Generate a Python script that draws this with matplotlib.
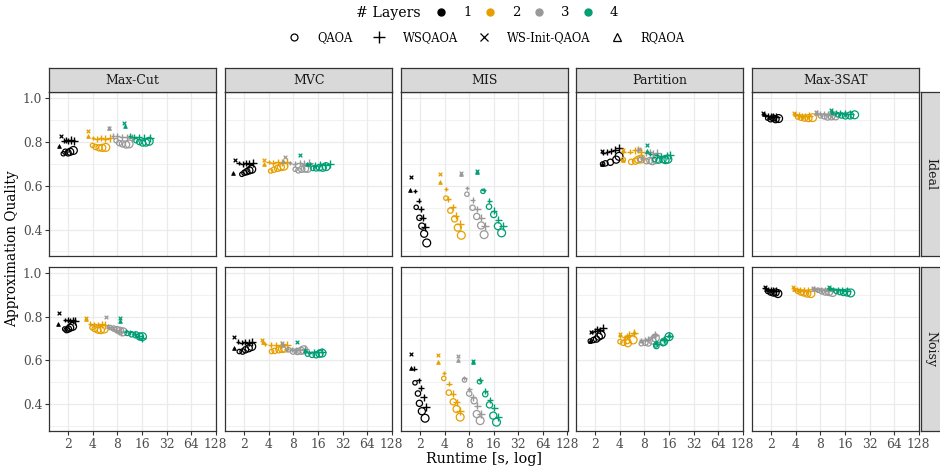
import numpy as np
import matplotlib.pyplot as plt
from matplotlib.lines import Line2D

plt.rcParams['font.family'] = ['DejaVu Serif']

# --- datos ---------------------------------------------------------------
PROBLEMS = ['Max-Cut', 'MVC', 'MIS', 'Partition', 'Max-3SAT']
CONDITIONS = ['Ideal', 'Noisy']
LAYERS = ['1', '2', '3', '4']
LAYER_COLORS = ['#000000', '#E69F00', '#999999', '#009E73']
METHODS = ['QAOA', 'WSQAOA', 'WS-Init-QAOA', 'RQAOA']
X_TICKS = [2, 4, 8, 16, 32, 64, 128]
Y_TICKS = [0.4, 0.6, 0.8, 1.0]
POINT_SIZES = [10, 15, 20, 26, 32]

# Max-Cut / Ideal
maxcut_ideal_qaoa_rt = [[1.73, 1.83, 1.98, 2.1, 2.3], [3.96, 4.3, 4.75, 5.2, 5.75],
                        [7.7, 8.4, 9.2, 10.2, 11.1], [13.5, 14.8, 16.3, 17.9, 19.6]]
maxcut_ideal_qaoa_q = [[.747, .756, .751, .756, .762], [.785, .778, .774, .774, .776],
                       [.807, .796, .792, .789, .792], [.807, .801, .796, .798, .804]]
maxcut_ideal_ws_rt = [[1.74, 1.88, 2.0, 2.15, 2.35], [4.0, 4.5, 5.0, 5.7, 6.5],
                      [7.0, 8.0, 9.0, 10.5, 12.0], [11.4, 12.8, 14.5, 17.0, 20.0]]
maxcut_ideal_ws_q = [[.807, .81, .807, .81, .807], [.82, .815, .82, .815, .818],
                     [.83, .828, .825, .822, .82], [.83, .825, .822, .82, .82]]
maxcut_ideal_init_rt = [1.6, 3.5, 6.3, 9.7]
maxcut_ideal_init_q = [.826, .849, .867, .887]
maxcut_ideal_rq_rt = [1.53, 3.45, 6.3, 10.0]
maxcut_ideal_rq_q = [.784, .826, .867, .875]

# MVC / Ideal
mvc_ideal_qaoa_rt = [[1.86, 2.0, 2.14, 2.3, 2.46], [4.2, 4.6, 5.1, 5.6, 6.1],
                     [8.4, 9.2, 10.1, 11.1, 11.9], [13.8, 15.2, 16.7, 18.3, 20.1]]
mvc_ideal_qaoa_q = [[.653, .66, .665, .671, .676], [.668, .674, .68, .686, .69],
                    [.676, .671, .676, .679, .68], [.68, .68, .683, .683, .688]]
mvc_ideal_ws_rt = [[1.7, 1.9, 2.1, 2.3, 2.55], [3.95, 4.5, 5.1, 5.8, 6.6],
                   [7.2, 8.3, 9.5, 10.8, 12.3], [12.8, 14.6, 16.8, 19.5, 22.6]]
mvc_ideal_ws_q = [[.705, .70, .705, .70, .705], [.71, .705, .71, .705, .708],
                  [.705, .70, .705, .70, .705], [.70, .695, .70, .695, .70]]
mvc_ideal_init_rt = [1.54, 3.5, 6.3, 9.7]
mvc_ideal_init_q = [.718, .72, .731, .743]
mvc_ideal_rq_rt = [1.45, 3.5, 6.0, 11.7]
mvc_ideal_rq_q = [.66, .70, .715, .70]

# MIS / Ideal
mis_ideal_qaoa_rt = [[1.79, 1.96, 2.1, 2.24, 2.41], [4.14, 4.7, 5.3, 5.8, 6.4],
                     [7.5, 8.8, 9.9, 11.2, 12.2], [11.8, 14.0, 16.0, 18.0, 20.0]]
mis_ideal_qaoa_q = [[.502, .454, .416, .381, .339], [.544, .487, .449, .409, .374],
                    [.562, .50, .46, .419, .377], [.575, .505, .469, .416, .385]]
mis_ideal_ws_rt = [[1.74, 1.91, 2.04, 2.16, 2.29], [4.14, 4.45, 5.0, 5.5, 6.2],
                   [7.5, 8.8, 10.1, 11.2, 12.6], [12.0, 14.2, 16.2, 18.3, 21.0]]
mis_ideal_ws_q = [[.577, .532, .495, .454, .412], [.585, .54, .505, .464, .427],
                  [.59, .535, .496, .455, .418], [.58, .532, .487, .446, .416]]
mis_ideal_init_rt = [1.55, 3.52, 6.3, 9.9]
mis_ideal_init_q = [.641, .653, .66, .668]
mis_ideal_rq_rt = [1.49, 3.52, 6.3, 9.9]
mis_ideal_rq_q = [.58, .62, .655, .665]

# Partition / Ideal
part_ideal_qaoa_rt = [[2.45, 2.65, 3.05, 3.6, 3.9], [4.4, 5.5, 6.2, 6.7, 7.3],
                      [7.1, 8.4, 9.3, 10.0, 11.0], [10.7, 12.0, 13.5, 14.5, 15.5]]
part_ideal_qaoa_q = [[.70, .703, .708, .72, .735], [.72, .71, .713, .72, .723],
                     [.72, .713, .716, .713, .72], [.72, .716, .72, .718, .722]]
part_ideal_ws_rt = [[2.5, 2.8, 3.1, 3.5, 3.9], [4.4, 5.3, 6.1, 6.7, 7.3],
                    [6.7, 8.4, 9.3, 10.2, 11.5], [9.3, 11.3, 12.9, 14.9, 16.5]]
part_ideal_ws_q = [[.752, .755, .76, .765, .775], [.756, .756, .762, .766, .756],
                   [.766, .751, .756, .747, .75], [.747, .74, .736, .74, .742]]
part_ideal_init_rt = [2.4, 4.3, 6.8, 8.7]
part_ideal_init_q = [.76, .765, .77, .785]
part_ideal_rq_rt = [2.4, 4.3, 7.5, 8.7]
part_ideal_rq_q = [.70, .72, .73, .76]

# Max-3SAT / Ideal
sat_ideal_qaoa_rt = [[1.8, 1.95, 2.1, 2.25, 2.45], [4.2, 4.6, 5.1, 5.7, 6.4],
                     [8.0, 8.9, 9.8, 10.9, 12.2], [13.0, 14.5, 16.2, 18.5, 21.0]]
sat_ideal_qaoa_q = [[.91, .905, .91, .905, .908], [.915, .912, .91, .91, .912],
                    [.92, .918, .915, .918, .92], [.925, .922, .92, .922, .925]]
sat_ideal_ws_rt = [[1.65, 1.8, 1.95, 2.1, 2.3], [3.9, 4.3, 4.7, 5.2, 5.8],
                   [7.2, 8.0, 8.8, 9.8, 11.0], [11.0, 12.5, 14.0, 16.0, 18.5]]
sat_ideal_ws_q = [[.925, .92, .918, .915, .915], [.93, .925, .92, .918, .918],
                  [.935, .93, .928, .925, .925], [.94, .935, .932, .93, .93]]
sat_ideal_init_rt = [1.58, 3.8, 7.0, 10.9]
sat_ideal_init_q = [.935, .935, .94, .945]
sat_ideal_rq_rt = [1.6, 3.85, 7.1, 11.2]
sat_ideal_rq_q = [.93, .93, .935, .94]

# Max-Cut / Noisy
maxcut_noisy_qaoa_rt = [[1.8, 1.9, 2.0, 2.1, 2.25], [3.9, 4.2, 4.6, 5.0, 5.5],
                        [6.5, 7.2, 7.9, 8.6, 9.4], [10.5, 11.9, 13.5, 15.1, 16.2]]
maxcut_noisy_qaoa_q = [[.743, .738, .743, .749, .755], [.749, .743, .738, .738, .743],
                       [.75, .745, .74, .735, .73], [.723, .719, .716, .708, .708]]
maxcut_noisy_ws_rt = [[1.8, 1.95, 2.1, 2.25, 2.4], [3.7, 4.1, 4.6, 5.1, 5.6],
                      [6.3, 7.0, 7.7, 8.3, 8.9], [10.2, 11.5, 13.0, 14.5, 15.8]]
maxcut_noisy_ws_q = [[.783, .785, .78, .783, .778], [.768, .765, .762, .765, .76],
                     [.753, .745, .738, .733, .728], [.734, .728, .72, .712, .703]]
maxcut_noisy_init_rt = [1.55, 3.3, 5.8, 8.6]
maxcut_noisy_init_q = [.814, .794, .797, .795]
maxcut_noisy_rq_rt = [1.47, 3.3, 6.2, 8.6]
maxcut_noisy_rq_q = [.764, .79, .755, .78]

# MVC / Noisy
mvc_noisy_qaoa_rt = [[1.73, 1.9, 2.06, 2.26, 2.46], [4.3, 4.7, 5.3, 5.8, 6.2],
                     [7.0, 7.9, 8.9, 9.9, 10.7], [11.9, 13.5, 15.2, 16.7, 17.9]]
mvc_noisy_qaoa_q = [[.64, .64, .648, .655, .663], [.64, .643, .648, .652, .655],
                    [.648, .64, .64, .643, .648], [.628, .625, .625, .63, .633]]
mvc_noisy_ws_rt = [[1.66, 1.85, 2.05, 2.25, 2.46], [3.6, 4.2, 4.9, 5.7, 6.7],
                   [6.6, 7.6, 8.6, 9.7, 11.0], [11.0, 12.5, 14.2, 16.0, 18.0]]
mvc_noisy_ws_q = [[.685, .68, .685, .68, .683], [.675, .67, .668, .672, .67],
                  [.65, .648, .645, .648, .65], [.64, .635, .638, .636, .64]]
mvc_noisy_init_rt = [1.5, 3.3, 5.8, 8.8]
mvc_noisy_init_q = [.708, .693, .678, .685]
mvc_noisy_rq_rt = [1.5, 3.4, 5.9, 11.0]
mvc_noisy_rq_q = [.655, .685, .672, .645]

# MIS / Noisy
mis_noisy_qaoa_rt = [[1.73, 1.88, 1.96, 2.1, 2.3], [3.9, 4.5, 5.1, 5.6, 6.2],
                     [7.0, 8.0, 9.2, 9.9, 10.9], [10.7, 12.6, 14.2, 15.8, 17.3]]
mis_noisy_qaoa_q = [[.497, .448, .403, .367, .335], [.517, .452, .41, .377, .34],
                    [.51, .448, .415, .354, .324], [.502, .445, .396, .347, .317]]
mis_noisy_ws_rt = [[1.7, 1.91, 2.06, 2.2, 2.35], [3.9, 4.5, 5.1, 5.6, 6.2],
                   [7.0, 8.0, 9.0, 10.1, 11.2], [11.0, 12.6, 14.4, 16.3, 18.3]]
mis_noisy_ws_q = [[.562, .508, .475, .43, .385], [.543, .493, .448, .407, .369],
                  [.52, .467, .43, .392, .354], [.512, .46, .418, .382, .342]]
mis_noisy_init_rt = [1.55, 3.3, 5.8, 9.0]
mis_noisy_init_q = [.628, .622, .618, .598]
mis_noisy_rq_rt = [1.55, 3.35, 5.8, 9.0]
mis_noisy_rq_q = [.565, .592, .60, .592]

# Partition / Noisy
part_noisy_qaoa_rt = [[1.73, 1.9, 2.06, 2.2, 2.35], [4.0, 4.4, 4.9, 5.0, 5.8],
                      [7.3, 8.2, 8.9, 10.0, 10.9], [11.0, 11.2, 13.5, 13.9, 16.0]]
part_noisy_qaoa_q = [[.688, .693, .697, .708, .716], [.685, .68, .69, .678, .693],
                     [.676, .68, .679, .69, .702], [.67, .665, .68, .685, .708]]
part_noisy_ws_rt = [[1.82, 2.0, 2.1, 2.3, 2.45], [4.0, 4.6, 4.9, 5.2, 6.0],
                    [7.3, 8.2, 8.9, 10.0, 10.9], [11.0, 11.4, 13.7, 14.0, 16.0]]
part_noisy_ws_q = [[.73, .735, .743, .738, .748], [.712, .705, .712, .716, .723],
                   [.69, .695, .696, .705, .716], [.682, .676, .692, .695, .712]]
part_noisy_init_rt = [1.75, 4.0, 7.3, 11.0]
part_noisy_init_q = [.73, .72, .69, .68]
part_noisy_rq_rt = [1.7, 6.0, 10.9, 16.0]
part_noisy_rq_q = [.69, .73, .72, .715]

# Max-3SAT / Noisy
sat_noisy_qaoa_rt = [[1.8, 1.95, 2.1, 2.25, 2.4], [4.2, 4.6, 5.0, 5.5, 6.1],
                     [7.5, 8.3, 9.2, 10.2, 11.3], [12.5, 13.8, 15.3, 17.0, 18.8]]
sat_noisy_qaoa_q = [[.915, .91, .908, .91, .905], [.915, .91, .908, .905, .905],
                    [.92, .915, .912, .912, .91], [.915, .912, .91, .91, .908]]
sat_noisy_ws_rt = [[1.65, 1.8, 1.95, 2.1, 2.25], [3.8, 4.1, 4.5, 5.0, 5.6],
                   [6.6, 7.3, 8.1, 9.0, 10.0], [10.3, 11.5, 13.0, 14.8, 17.0]]
sat_noisy_ws_q = [[.93, .925, .922, .918, .915], [.93, .925, .92, .918, .915],
                  [.93, .925, .922, .92, .918], [.93, .925, .922, .92, .918]]
sat_noisy_init_rt = [1.65, 3.7, 6.5, 10.1]
sat_noisy_init_q = [.935, .935, .932, .935]
sat_noisy_rq_rt = [1.7, 3.8, 6.7, 10.5]
sat_noisy_rq_q = [.925, .925, .925, .93]

PANEL_DATA = {
    ('Max-Cut', 'Ideal'): (maxcut_ideal_qaoa_rt, maxcut_ideal_qaoa_q, maxcut_ideal_ws_rt, maxcut_ideal_ws_q,
                           maxcut_ideal_init_rt, maxcut_ideal_init_q, maxcut_ideal_rq_rt, maxcut_ideal_rq_q),
    ('MVC', 'Ideal'): (mvc_ideal_qaoa_rt, mvc_ideal_qaoa_q, mvc_ideal_ws_rt, mvc_ideal_ws_q,
                       mvc_ideal_init_rt, mvc_ideal_init_q, mvc_ideal_rq_rt, mvc_ideal_rq_q),
    ('MIS', 'Ideal'): (mis_ideal_qaoa_rt, mis_ideal_qaoa_q, mis_ideal_ws_rt, mis_ideal_ws_q,
                       mis_ideal_init_rt, mis_ideal_init_q, mis_ideal_rq_rt, mis_ideal_rq_q),
    ('Partition', 'Ideal'): (part_ideal_qaoa_rt, part_ideal_qaoa_q, part_ideal_ws_rt, part_ideal_ws_q,
                             part_ideal_init_rt, part_ideal_init_q, part_ideal_rq_rt, part_ideal_rq_q),
    ('Max-3SAT', 'Ideal'): (sat_ideal_qaoa_rt, sat_ideal_qaoa_q, sat_ideal_ws_rt, sat_ideal_ws_q,
                            sat_ideal_init_rt, sat_ideal_init_q, sat_ideal_rq_rt, sat_ideal_rq_q),
    ('Max-Cut', 'Noisy'): (maxcut_noisy_qaoa_rt, maxcut_noisy_qaoa_q, maxcut_noisy_ws_rt, maxcut_noisy_ws_q,
                           maxcut_noisy_init_rt, maxcut_noisy_init_q, maxcut_noisy_rq_rt, maxcut_noisy_rq_q),
    ('MVC', 'Noisy'): (mvc_noisy_qaoa_rt, mvc_noisy_qaoa_q, mvc_noisy_ws_rt, mvc_noisy_ws_q,
                       mvc_noisy_init_rt, mvc_noisy_init_q, mvc_noisy_rq_rt, mvc_noisy_rq_q),
    ('MIS', 'Noisy'): (mis_noisy_qaoa_rt, mis_noisy_qaoa_q, mis_noisy_ws_rt, mis_noisy_ws_q,
                       mis_noisy_init_rt, mis_noisy_init_q, mis_noisy_rq_rt, mis_noisy_rq_q),
    ('Partition', 'Noisy'): (part_noisy_qaoa_rt, part_noisy_qaoa_q, part_noisy_ws_rt, part_noisy_ws_q,
                             part_noisy_init_rt, part_noisy_init_q, part_noisy_rq_rt, part_noisy_rq_q),
    ('Max-3SAT', 'Noisy'): (sat_noisy_qaoa_rt, sat_noisy_qaoa_q, sat_noisy_ws_rt, sat_noisy_ws_q,
                            sat_noisy_init_rt, sat_noisy_init_q, sat_noisy_rq_rt, sat_noisy_rq_q),
}

# --- figura ----------------------------------------------------------------
W, H = 940, 469
fig = plt.figure(figsize=(W / 100, H / 100), dpi=100)


def px(x0, y0, w, h):
    # convierte una caja en pixeles (arriba-izquierda) a fracciones de figura
    return [x0 / W, 1 - (y0 + h) / H, w / W, h / H]


col_left = [49.3, 225.3, 401.0, 576.3, 752.3]
row_top = [92.3, 266.7]
pw, ph = 166.8, 164.2
strip_h = 24
border = '#333333'

for r, cond in enumerate(CONDITIONS):
    for c, prob in enumerate(PROBLEMS):
        ax = fig.add_axes(px(col_left[c], row_top[r], pw, ph))
        qaoa_rt, qaoa_q, ws_rt, ws_q, init_rt, init_q, rq_rt, rq_q = PANEL_DATA[(prob, cond)]
        for k, color in enumerate(LAYER_COLORS):
            ax.scatter(qaoa_rt[k], qaoa_q[k], s=POINT_SIZES, marker='o', facecolors='none',
                       edgecolors=color, linewidths=0.9, zorder=3)
            ax.scatter(ws_rt[k], ws_q[k], s=POINT_SIZES, marker='+', color=color,
                       linewidths=1.0, zorder=3)
            ax.scatter(init_rt[k], init_q[k], s=7, marker='x', color=color, linewidths=0.9, zorder=3)
            ax.scatter(rq_rt[k], rq_q[k], s=7, marker='^', color=color, linewidths=0.6, zorder=3)

        ax.set_xscale('log', base=2)
        ax.set_xlim(2 ** 0.22, 2 ** 7.02)
        ax.set_ylim(0.277, 1.028)
        ax.set_xticks(X_TICKS)
        ax.set_xticklabels([str(t) for t in X_TICKS])
        ax.xaxis.set_minor_locator(plt.NullLocator())
        ax.set_yticks(Y_TICKS)
        ax.set_yticklabels(['%.1f' % t for t in Y_TICKS])
        ax.set_yticks([0.3, 0.5, 0.7, 0.9], minor=True)
        ax.grid(True, which='major', color='#EBEBEB', lw=0.9, zorder=0)
        ax.grid(True, which='minor', axis='y', color='#EBEBEB', lw=0.5, zorder=0)
        ax.set_axisbelow(True)
        for sp in ax.spines.values():
            sp.set_color(border)
            sp.set_linewidth(0.9)
        ax.tick_params(which='major', length=3, width=0.8, color=border,
                       labelcolor='#4D4D4D', labelsize=8.8, pad=2)
        ax.tick_params(which='minor', length=0)
        if r == 0:
            ax.tick_params(axis='x', labelbottom=False, length=0)
        if c > 0:
            ax.tick_params(axis='y', labelleft=False, length=0)

        # tira superior con el nombre del problema
        if r == 0:
            st = fig.add_axes(px(col_left[c], row_top[0] - strip_h, pw, strip_h))
            st.set_facecolor('#D9D9D9')
            st.set_xticks([])
            st.set_yticks([])
            for sp in st.spines.values():
                sp.set_color(border)
                sp.set_linewidth(0.9)
            st.text(0.5, 0.5, prob, ha='center', va='center', fontsize=9, color='#1A1A1A',
                    transform=st.transAxes)

    # tira lateral con la condicion
    rs = fig.add_axes(px(col_left[4] + pw + 1.5, row_top[r], 24, ph))
    rs.set_facecolor('#D9D9D9')
    rs.set_xticks([])
    rs.set_yticks([])
    for sp in rs.spines.values():
        sp.set_color(border)
        sp.set_linewidth(0.9)
    rs.text(0.42, 0.5, cond, rotation=-90, ha='center', va='center', fontsize=9,
            color='#1A1A1A', transform=rs.transAxes)

fig.text(484 / W, 1 - 459 / H, 'Runtime [s, log]', ha='center', va='center', fontsize=10.4)
fig.text(12.5 / W, 1 - 249 / H, 'Approximation Quality', ha='center', va='center',
         rotation=90, fontsize=9.8)

# leyendas
fig.text(388 / W, 1 - 13 / H, '# Layers', ha='center', va='center', fontsize=10.2)
layer_handles = [Line2D([], [], ls='none', marker='o', markersize=5, color=c) for c in LAYER_COLORS]
fig.legend(layer_handles, LAYERS, loc='center', bbox_to_anchor=(525 / W, 1 - 13 / H),
           ncol=4, frameon=False, fontsize=9.5, handlelength=1.5, handletextpad=0.9,
           columnspacing=0.67, borderpad=0)
method_handles = [
    Line2D([], [], ls='none', marker='o', markersize=5, markerfacecolor='none',
           markeredgecolor='black', markeredgewidth=0.9),
    Line2D([], [], ls='none', marker='+', markersize=8, color='black', markeredgewidth=1.0),
    Line2D([], [], ls='none', marker='x', markersize=6, color='black', markeredgewidth=0.9),
    Line2D([], [], ls='none', marker='^', markersize=6, markerfacecolor='none',
           markeredgecolor='black', markeredgewidth=0.9),
]
fig.legend(method_handles, METHODS, loc='center', bbox_to_anchor=(485 / W, 1 - 38 / H),
           ncol=4, frameon=False, fontsize=8.3, handlelength=1.5, handletextpad=1.3,
           columnspacing=1.5, borderpad=0)

fig.savefig('out.png', dpi=100)
